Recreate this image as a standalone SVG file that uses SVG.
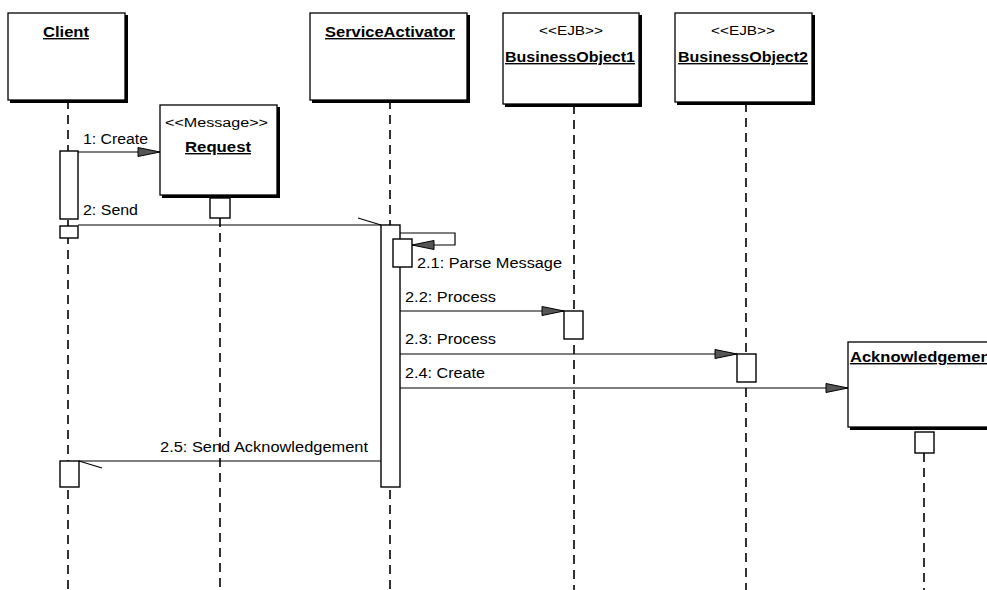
<svg xmlns="http://www.w3.org/2000/svg" width="987" height="590" viewBox="0 0 987 590">
<style>
.box{fill:#fff;stroke:#000;stroke-width:1.3}
.shadow{fill:#000}
.life{stroke:#000;stroke-width:1.6;stroke-dasharray:9 6;fill:none}
.act{fill:#fff;stroke:#000;stroke-width:1.4}
.msg{stroke:#000;stroke-width:1.2;fill:none}
.name{font-family:"Liberation Sans",Arial,sans-serif;font-size:14px;font-weight:bold;text-decoration:underline;fill:#000}
.stereo{font-family:"Liberation Sans",Arial,sans-serif;font-size:12px;fill:#000}
.lbl{font-family:"Liberation Sans",Arial,sans-serif;font-size:14px;fill:#000}
</style>
<defs>
<marker id="tri" markerUnits="userSpaceOnUse" markerWidth="26" markerHeight="14" refX="23" refY="6" orient="auto" viewBox="0 0 26 12">
<path d="M1,1.5 L23,6 L1,10.5 Z" fill="#555" stroke="#000" stroke-width="1"/>
</marker>
<marker id="half" markerUnits="userSpaceOnUse" markerWidth="26" markerHeight="12" refX="24" refY="8" orient="auto" viewBox="0 0 26 12">
<path d="M1,1 L24,8" fill="none" stroke="#000" stroke-width="1.2"/>
</marker>
</defs>

<g id="lifelines">
<line class="life" x1="68" y1="100" x2="68" y2="590"/>
<line class="life" x1="220" y1="218" x2="220" y2="590"/>
<line class="life" x1="390" y1="100" x2="390" y2="590"/>
<line class="life" x1="574" y1="105" x2="574" y2="590"/>
<line class="life" x1="746" y1="103" x2="746" y2="590"/>
<line class="life" x1="924" y1="453" x2="924" y2="590"/>
</g>

<g id="client">
<rect class="shadow" x="10" y="15" width="118" height="88"/>
<rect class="box" x="8" y="13" width="117" height="87"/>
<text class="name" x="43" y="37" textLength="46" lengthAdjust="spacingAndGlyphs">Client</text>
</g>

<g id="request">
<rect class="shadow" x="162" y="107" width="118" height="91"/>
<rect class="box" x="160" y="105" width="117" height="90"/>
<text class="stereo" x="165" y="127" textLength="103" lengthAdjust="spacingAndGlyphs">&lt;&lt;Message&gt;&gt;</text>
<text class="name" x="185" y="152" textLength="66" lengthAdjust="spacingAndGlyphs">Request</text>
</g>

<g id="serviceactivator">
<rect class="shadow" x="312" y="15" width="158" height="88"/>
<rect class="box" x="310" y="13" width="157" height="87"/>
<text class="name" x="325" y="37" textLength="130" lengthAdjust="spacingAndGlyphs">ServiceActivator</text>
</g>

<g id="businessobject1">
<rect class="shadow" x="505" y="15" width="137" height="92"/>
<rect class="box" x="503" y="13" width="136" height="91"/>
<text class="stereo" x="539" y="35" textLength="64" lengthAdjust="spacingAndGlyphs">&lt;&lt;EJB&gt;&gt;</text>
<text class="name" x="505" y="62" textLength="130" lengthAdjust="spacingAndGlyphs">BusinessObject1</text>
</g>

<g id="businessobject2">
<rect class="shadow" x="677" y="15" width="138" height="90"/>
<rect class="box" x="675" y="13" width="137" height="89"/>
<text class="stereo" x="711" y="35" textLength="64" lengthAdjust="spacingAndGlyphs">&lt;&lt;EJB&gt;&gt;</text>
<text class="name" x="678" y="62" textLength="130" lengthAdjust="spacingAndGlyphs">BusinessObject2</text>
</g>

<g id="acknowledgement">
<rect class="shadow" x="850" y="344" width="150" height="86"/>
<rect class="box" x="848" y="342" width="150" height="85"/>
<text class="name" x="850" y="362" textLength="146" lengthAdjust="spacingAndGlyphs">Acknowledgement</text>
</g>

<g id="activations">
<rect class="act" x="60" y="151" width="18" height="68"/>
<rect class="act" x="60" y="226" width="18" height="12"/>
<rect class="act" x="210" y="198" width="20" height="20"/>
<rect class="act" x="381" y="225" width="19" height="262"/>
<rect class="act" x="393" y="239" width="19" height="28"/>
<rect class="act" x="564" y="311" width="19" height="28"/>
<rect class="act" x="737" y="354" width="19" height="28"/>
<rect class="act" x="60" y="461" width="19" height="26"/>
<rect class="act" x="915" y="432" width="19" height="21"/>
</g>

<g id="connectors">
<line class="msg" x1="78" y1="152" x2="160" y2="152" marker-end="url(#tri)"/>
<line class="msg" x1="78" y1="225" x2="381" y2="225" marker-end="url(#half)"/>
<path class="msg" d="M400,233 H455 V245 H412" marker-end="url(#tri)"/>
<line class="msg" x1="400" y1="311" x2="564" y2="311" marker-end="url(#tri)"/>
<line class="msg" x1="400" y1="354" x2="737" y2="354" marker-end="url(#tri)"/>
<line class="msg" x1="400" y1="388" x2="848" y2="388" marker-end="url(#tri)"/>
<line class="msg" x1="381" y1="461" x2="79" y2="461" marker-end="url(#half)"/>
</g>

<g id="labels">
<text class="lbl" x="83" y="144" textLength="65" lengthAdjust="spacingAndGlyphs">1: Create</text>
<text class="lbl" x="83" y="215" textLength="55" lengthAdjust="spacingAndGlyphs">2: Send</text>
<text class="lbl" x="417" y="268" textLength="145" lengthAdjust="spacingAndGlyphs">2.1: Parse Message</text>
<text class="lbl" x="405" y="302" textLength="91" lengthAdjust="spacingAndGlyphs">2.2: Process</text>
<text class="lbl" x="405" y="344" textLength="91" lengthAdjust="spacingAndGlyphs">2.3: Process</text>
<text class="lbl" x="405" y="378" textLength="80" lengthAdjust="spacingAndGlyphs">2.4: Create</text>
<text class="lbl" x="160" y="452" textLength="208" lengthAdjust="spacingAndGlyphs">2.5: Send Acknowledgement</text>
</g>
</svg>
